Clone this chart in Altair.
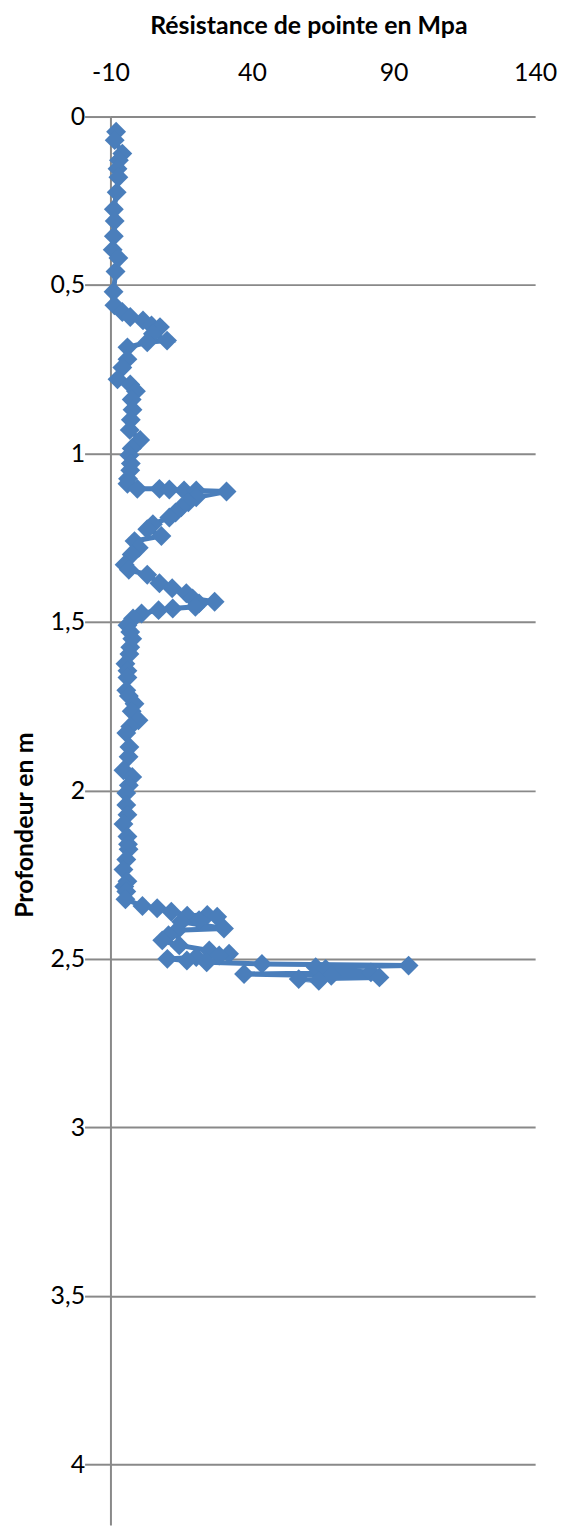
import altair as alt
import pandas as pd

# Depth (m) and cone resistance (MPa), in drilling order
depth = [
    0.045, 0.07, 0.11, 0.13, 0.155, 0.18, 0.225, 0.275, 0.31, 0.355,
    0.395, 0.42, 0.46, 0.52, 0.56, 0.58, 0.595, 0.605, 0.62, 0.625,
    0.645, 0.665, 0.67, 0.685, 0.72, 0.745, 0.78, 0.795, 0.815, 0.84,
    0.87, 0.90, 0.93, 0.96, 0.985, 1.005, 1.03, 1.05, 1.075, 1.09,
    1.105, 1.105, 1.107, 1.11, 1.11, 1.113, 1.13, 1.145, 1.16, 1.175,
    1.19, 1.21, 1.225, 1.245, 1.26, 1.28, 1.30, 1.33, 1.345, 1.36,
    1.385, 1.40, 1.415, 1.43, 1.44, 1.445, 1.455, 1.46, 1.465, 1.475,
    1.49, 1.51, 1.53, 1.55, 1.575, 1.595, 1.624, 1.645, 1.665, 1.703,
    1.72, 1.743, 1.765, 1.792, 1.81, 1.83, 1.871, 1.90, 1.94, 1.96,
    1.985, 2.008, 2.043, 2.072, 2.10, 2.137, 2.16, 2.175, 2.205, 2.235,
    2.27, 2.285, 2.30, 2.323, 2.343, 2.35, 2.36, 2.372, 2.37, 2.375,
    2.385, 2.39, 2.41, 2.415, 2.43, 2.445, 2.46, 2.475, 2.485, 2.49,
    2.495, 2.50, 2.505, 2.51, 2.515, 2.52, 2.525, 2.53, 2.54, 2.545,
    2.55, 2.555, 2.56, 2.565,
]
resistance = [
    -8.0, -8.5, -5.8, -7.0, -7.5, -7.2, -7.8, -8.8, -8.5, -8.8,
    -9.2, -7.2, -8.2, -8.9, -8.6, -5.8, -3.0, 1.5, 4.5, 7.5,
    5.0, 10.0, 3.0, -4.0, -4.0, -5.8, -7.5, -3.0, -1.0, -2.5,
    -2.2, -2.8, -3.2, 0.5, -2.5, -3.3, -2.8, -3.0, -3.8, -4.0,
    -0.5, 7.3, 10.8, 16.0, 20.3, 31.0, 20.3, 17.5, 15.0, 13.0,
    10.8, 5.0, 3.0, 8.0, -1.5, 0.0, -2.5, -5.0, -3.5, 3.0,
    7.3, 11.8, 16.8, 19.0, 26.8, 21.3, 20.0, 12.0, 7.0, 1.0,
    -2.0, -4.0, -3.0, -2.3, -3.0, -3.3, -4.7, -4.0, -4.0, -4.4,
    -3.5, -1.5, -2.5, -0.1, -3.0, -4.4, -3.3, -3.6, -5.4, -2.3,
    -3.5, -4.4, -4.4, -4.0, -5.4, -4.0, -3.8, -3.6, -4.4, -5.4,
    -4.0, -5.1, -4.4, -4.7, 1.3, 6.5, 11.5, 17.1, 24.2, 27.7,
    21.3, 15.0, 30.1, 13.6, 10.5, 8.3, 14.3, 24.9, 31.9, 28.4,
    20.3, 10.1, 17.0, 24.0, 43.5, 95.3, 62.5, 66.0, 82.0, 37.2,
    68.0, 85.0, 56.5, 63.6,
]

x_ticks = [-10, 40, 90, 140]
y_ticks = [0, 0.5, 1, 1.5, 2, 2.5, 3, 3.5, 4]

df = pd.DataFrame({"i": list(range(len(depth))), "depth": depth, "qc": resistance})

GRID = "#898989"
BLUE = "#4a7ebb"
FONT = "Lato"

x_enc = alt.X(
    "qc:Q",
    scale=alt.Scale(domain=[-10, 140], nice=False, zero=False),
    axis=alt.Axis(
        orient="top",
        values=x_ticks,
        grid=False,
        domain=False,
        ticks=False,
        tickSize=0,
        labelFlush=False,
        labelPadding=44,
        labelBaseline="middle",
        labelFont=FONT,
        labelFontSize=25,
        labelColor="#000000",
        labelExpr="toString(datum.value)",
        title="Résistance de pointe en Mpa",
        titleFont=FONT,
        titleFontSize=25,
        titleFontWeight="bold",
        titleColor="#000000",
        titleX=199,
        titleY=-91,
        titleAlign="center",
        titleBaseline="middle",
    ),
)

y_enc = alt.Y(
    "depth:Q",
    scale=alt.Scale(domain=[0, 4.18], reverse=True, nice=False, zero=False),
    axis=alt.Axis(
        values=y_ticks,
        grid=True,
        gridColor=GRID,
        gridWidth=2,
        gridOpacity=1,
        domain=True,
        domainColor=GRID,
        domainWidth=2,
        ticks=True,
        tickSize=26,
        tickColor=GRID,
        tickWidth=2,
        labelFlush=False,
        labelPadding=0,
        labelFont=FONT,
        labelFontSize=25,
        labelColor="#000000",
        labelBaseline="middle",
        labelExpr="replace(toString(datum.value), '.', ',')",
        title="Profondeur en m",
        titleFont=FONT,
        titleFontSize=25,
        titleFontWeight="bold",
        titleColor="#000000",
        titleAngle=270,
        titleX=-86,
        titleY=712,
        titleAlign="center",
        titleBaseline="middle",
    ),
)

base = alt.Chart(df)

line = base.mark_line(color=BLUE, strokeWidth=5).encode(
    x=x_enc, y=y_enc, order=alt.Order("i:Q")
)
points = base.mark_point(
    shape="diamond", filled=True, color=BLUE, size=400, opacity=1
).encode(x=x_enc, y=y_enc)

chart = (
    alt.layer(line, points)
    .properties(
        width=427,
        height=1416,
        autosize="none",
        padding={"left": 103, "top": 105, "right": 25, "bottom": 1},
    )
    .configure_view(stroke=None)
)

chart.save("out.html", embed_options={"renderer": "svg", "actions": False})
